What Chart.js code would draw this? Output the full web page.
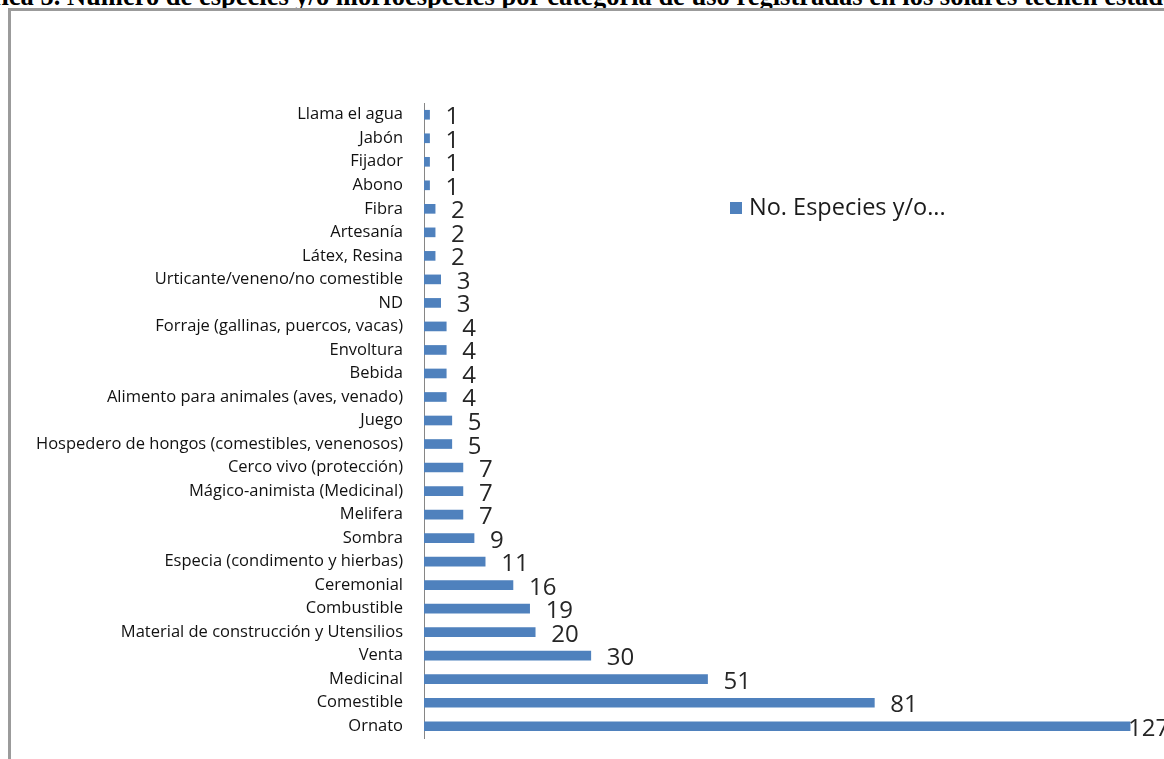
<!DOCTYPE html>
<html>
<head>
<meta charset="utf-8">
<script src="https://cdn.jsdelivr.net/npm/chart.js@4.4.1/dist/chart.umd.min.js"></script>
<style>
  html, body { margin: 0; padding: 0; background: #ffffff; overflow: hidden; }
  body { width: 1164px; height: 759px; position: relative; }
  #caption {
    position: absolute; left: -53px; top: -19px; white-space: nowrap;
    font: bold 26.5px "Liberation Serif", "Times New Roman", serif; color: #000;
    line-height: 30px;
  }
  #frame {
    position: absolute; left: 8px; top: 8px; width: 1200px; height: 800px;
    border-left: 3px solid #9b9b9b; border-top: 3px solid #9b9b9b;
  }
  #chart { position: absolute; left: 0; top: 0; }
  #legend {
    position: absolute; left: 730px; top: 190px; white-space: nowrap;
    font: 23.5px "Open Sans", sans-serif; color: #1a1a1a;
  }
  #legend .swatch {
    display: inline-block; width: 12px; height: 12px; background: #4f81bd;
    margin-right: 7px; vertical-align: 1px;
  }
</style>
</head>
<body>
<div id="caption">Gráfica 5. Número de especies y/o morfoespecies por categoría de uso registradas en los solares tecnen estado</div>
<div id="frame"></div>
<canvas id="chart" width="1164" height="759"></canvas>
<div id="legend"><span class="swatch"></span><span id="legendText"></span></div>
<script>
// Categorías de uso, de arriba hacia abajo
const categories = [
  'Llama el agua', 'Jabón', 'Fijador', 'Abono', 'Fibra', 'Artesanía',
  'Látex, Resina', 'Urticante/veneno/no comestible', 'ND',
  'Forraje (gallinas, puercos, vacas)', 'Envoltura', 'Bebida',
  'Alimento para animales (aves, venado)', 'Juego',
  'Hospedero de hongos (comestibles, venenosos)', 'Cerco vivo (protección)',
  'Mágico-animista (Medicinal)', 'Melifera', 'Sombra',
  'Especia (condimento y hierbas)', 'Ceremonial', 'Combustible',
  'Material de construcción y Utensilios', 'Venta', 'Medicinal',
  'Comestible', 'Ornato'
];
// Número de especies y/o morfoespecies por categoría
const speciesCount = [
  1, 1, 1, 1, 2, 2, 2, 3, 3, 4, 4, 4, 4, 5, 5, 7, 7, 7, 9, 11, 16, 19, 20, 30, 51, 81, 127
];
const seriesName = 'No. Especies y/o...';

document.getElementById('legendText').textContent = seriesName;

const AXIS_LEFT = 424;

// Etiquetas de valor al final de cada barra
const valueLabels = {
  id: 'valueLabels',
  afterDatasetsDraw(chart) {
    const ctx = chart.ctx;
    const meta = chart.getDatasetMeta(0);
    const data = chart.data.datasets[0].data;
    const right = chart.chartArea.right;
    ctx.save();
    ctx.font = '24px "Open Sans", sans-serif';
    ctx.fillStyle = '#262626';
    ctx.textAlign = 'left';
    ctx.textBaseline = 'alphabetic';
    meta.data.forEach((bar, i) => {
      const text = String(data[i]);
      const w = ctx.measureText(text).width;
      let x = bar.x + 16;
      if (x + w > right) x = bar.x - 2;
      ctx.fillText(text, x, bar.y + 9.5);
    });
    ctx.restore();
  }
};

new Chart(document.getElementById('chart'), {
  type: 'bar',
  data: {
    labels: categories,
    datasets: [{
      label: seriesName,
      data: speciesCount,
      backgroundColor: '#4f81bd',
      borderWidth: 0,
      barThickness: 9
    }]
  },
  options: {
    indexAxis: 'y',
    responsive: false,
    devicePixelRatio: 1,
    animation: false,
    layout: { padding: { top: 103, bottom: 21, left: 0, right: 0 } },
    plugins: {
      legend: { display: false },
      tooltip: { enabled: false }
    },
    scales: {
      x: { display: false, min: 0, max: 133.1 },
      y: {
        grid: { display: false, drawTicks: false },
        border: { display: true, color: '#868686', width: 1 },
        ticks: {
          color: '#111111',
          padding: 21,
          autoSkip: false,
          font: { family: '"Open Sans", sans-serif', size: 16.5 }
        },
        afterFit(scale) {
          // fixed label column; the plot height comes from layout padding only
          scale.width = AXIS_LEFT;
          scale.paddingTop = 0;
          scale.paddingBottom = 0;
        }
      }
    }
  },
  plugins: [valueLabels]
});
</script>
</body>
</html>
